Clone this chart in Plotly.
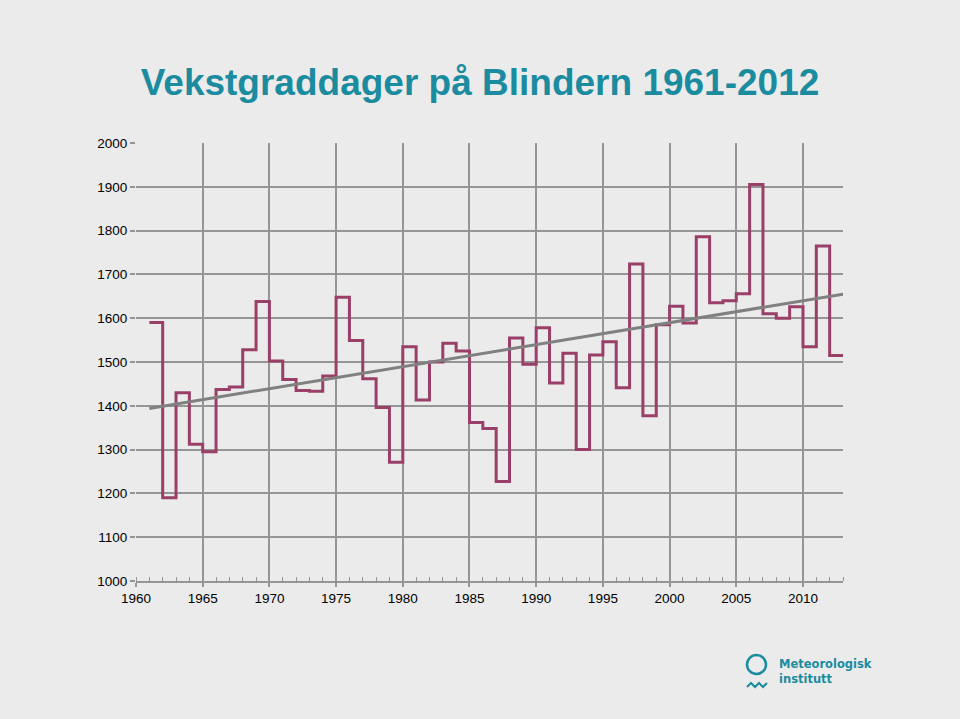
import plotly.graph_objects as go

years = [1961, 1962, 1963, 1964, 1965, 1966, 1967, 1968, 1969, 1970,
         1971, 1972, 1973, 1974, 1975, 1976, 1977, 1978, 1979, 1980,
         1981, 1982, 1983, 1984, 1985, 1986, 1987, 1988, 1989, 1990,
         1991, 1992, 1993, 1994, 1995, 1996, 1997, 1998, 1999, 2000,
         2001, 2002, 2003, 2004, 2005, 2006, 2007, 2008, 2009, 2010,
         2011, 2012]
degree_days = [1590, 1190, 1430, 1312, 1295, 1437, 1443, 1528, 1638, 1502,
               1460, 1435, 1433, 1468, 1648, 1549, 1462, 1396, 1271, 1535,
               1413, 1500, 1543, 1525, 1362, 1348, 1227, 1555, 1495, 1578,
               1452, 1520, 1300, 1516, 1546, 1441, 1724, 1377, 1585, 1627,
               1589, 1786, 1635, 1640, 1656, 1905, 1610, 1600, 1626, 1535,
               1765, 1515]
trend_years = [1961, 2013]
trend_values = [1394, 1655]

x_tickvals = [1960, 1965, 1970, 1975, 1980, 1985, 1990, 1995, 2000, 2005, 2010]
y_tickvals = [1000, 1100, 1200, 1300, 1400, 1500, 1600, 1700, 1800, 1900, 2000]

title_text = "Vekstgraddager på Blindern 1961-2012"

BG = "#ebebeb"
GRID = "#959595"
LINE = "#9a3f68"
TEAL = "#1b8c9f"
FONT = "Liberation Sans, Helvetica, Arial, sans-serif"

# step series: each year's value holds until the next year
step_x = years + [years[-1] + 1]
step_y = degree_days + [degree_days[-1]]

fig = go.Figure()
fig.add_trace(go.Scatter(
    x=step_x, y=step_y, mode="lines", line=dict(color=LINE, width=3, shape="hv"),
    hoverinfo="skip", showlegend=False))
fig.add_trace(go.Scatter(
    x=trend_years, y=trend_values, mode="lines", line=dict(color="#808080", width=3),
    hoverinfo="skip", showlegend=False))

L, R, T, B = 136, 117, 143, 138
W, H = 960, 719
pw, ph = W - L - R, H - T - B

def px_x(p):
    return (p - L) / pw

def px_y(p):
    return (H - B - p) / ph

fig.update_layout(
    width=W, height=H,
    paper_bgcolor=BG, plot_bgcolor=BG,
    margin=dict(l=L, r=R, t=T, b=B),
    font=dict(family=FONT, size=13.5, color="#000000"),
    title=dict(text=title_text, x=0.5, xref="container", xanchor="center",
               y=1 - 82 / H, yref="container", yanchor="middle",
               font=dict(family=FONT, size=37, color=TEAL, weight="bold")),
    xaxis=dict(range=[1960, 2013], tickvals=x_tickvals, showgrid=True,
               gridcolor=GRID, gridwidth=1.5, zeroline=False,
               showline=True, linecolor=GRID, linewidth=1.5,
               ticks="outside", ticklen=4, tickcolor=GRID, tickwidth=1.5,
               minor=dict(dtick=1, tick0=1960, ticks="inside", ticklen=4,
                          tickcolor=GRID, tickwidth=1, showgrid=False),
               tickfont=dict(size=13.5), fixedrange=True),
    yaxis=dict(range=[1000, 2000], tickvals=y_tickvals, showgrid=True,
               gridcolor=GRID, gridwidth=1.5, zeroline=False,
               showline=False, ticks="outside", ticklen=5, tickcolor=GRID,
               tickwidth=1.5, tickfont=dict(size=13.5), fixedrange=True),
)

# Meteorologisk institutt logo
fig.add_shape(type="circle", xref="paper", yref="paper",
              x0=px_x(747), x1=px_x(766), y0=px_y(674), y1=px_y(655),
              line=dict(color=TEAL, width=2.5))
wave_pts = [(747, 687), (751, 683), (755, 687), (759, 683), (763, 687), (767, 683)]
path = "M " + " L ".join(f"{px_x(a):.5f},{px_y(b):.5f}" for a, b in wave_pts)
fig.add_shape(type="path", xref="paper", yref="paper", path=path,
              line=dict(color=TEAL, width=2))
fig.add_annotation(text="<b>Meteorologisk</b><br><b>institutt</b>",
                   xref="paper", yref="paper", x=px_x(777), y=px_y(671),
                   xanchor="left", yanchor="middle", showarrow=False, align="left",
                   font=dict(family="DejaVu Sans, sans-serif", size=11.5, color=TEAL))

fig.write_html("out.html", config={"displayModeBar": False},
               post_script="document.body.style.margin='0';document.body.style.background='#ebebeb';")
